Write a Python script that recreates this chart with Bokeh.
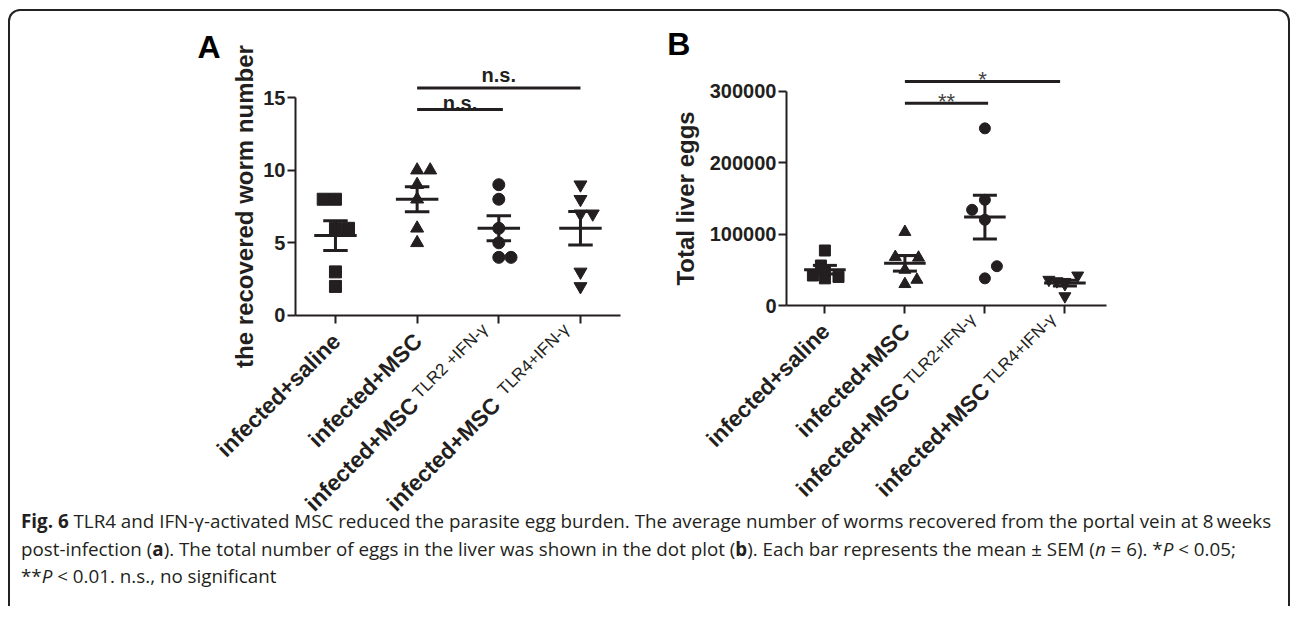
import numpy as np
from math import pi
from bokeh.plotting import figure
from bokeh.models import FixedTicker, Label, Div, Range1d, PrintfTickFormatter
from bokeh.layouts import row, column
from bokeh.embed import file_html
from bokeh.resources import INLINE

# ---------------- data ----------------
group_names = ["infected+saline", "infected+MSC", "infected+MSC", "infected+MSC"]
group_sup_a = ["", "", "TLR2 +IFN-\u03b3", "TLR4+IFN-\u03b3"]
group_sup_b = ["", "", "TLR2+IFN-\u03b3", "TLR4+IFN-\u03b3"]
markers = ["square", "triangle", "circle", "inverted_triangle"]

worm_saline = [8, 8, 6, 6, 3, 2]
worm_msc = [10, 10, 9, 8, 6, 5]
worm_tlr2 = [9, 8, 6, 5, 4, 4]
worm_tlr4 = [9, 8, 7, 7, 3, 2]

eggs_saline = [77000, 56000, 48000, 42000, 40000, 38000]
eggs_msc = [103000, 68000, 67000, 50000, 36000, 30000]
eggs_tlr2 = [248000, 148000, 134000, 120000, 55000, 38000]
eggs_tlr4 = [42000, 36000, 34000, 33000, 30000, 13000]

worm_jitter = [[-0.15, 0, 0, 0.16, 0, 0], [0, 0.16, 0, 0, 0, 0],
               [0, 0, 0, 0, 0, 0.15], [0, 0, 0, 0.15, 0, 0]]
eggs_jitter = [[0, -0.05, 0, -0.15, 0.17, 0], [0, -0.12, 0.17, 0, 0.15, 0],
               [0, 0, -0.16, 0, 0.15, 0], [0.16, -0.2, -0.1, 0, 0, 0]]

worm_ticks = [0, 5, 10, 15]
eggs_ticks = [0, 100000, 200000, 300000]

# comparisons: (from group, to group, bar height, text, text centre height)
worm_comparisons = [(1, 2.05, 14.18, "n.s.", 14.62), (1, 3.0, 15.66, "n.s.", 16.52)]
eggs_comparisons = [(1, 2.04, 283000, "**", 285600), (1, 2.94, 313600, "*", 317100)]

# ---------------- style ----------------
INK = "#231f20"
FONT = "Liberation Sans"
XLAB_SIZE = "22.5px"


def make_panel(groups, jitters, sups, ticks, xr, yr, xbounds, title, width, height,
               msize, sup_pos, sup_shift, fmt=None, title_standoff=4):
    p = figure(width=width, height=height, x_range=Range1d(*xr), y_range=Range1d(*yr),
               output_backend="svg", toolbar_location=None,
               min_border=0, min_border_left=0, min_border_right=0,
               min_border_top=0, min_border_bottom=0)
    p.xgrid.visible = False
    p.ygrid.visible = False
    p.outline_line_color = None
    p.background_fill_alpha = 0
    p.border_fill_alpha = 0

    for i, (vals, jit) in enumerate(zip(groups, jitters)):
        xs = [i + j for j in jit]
        sz = msize + (1 if "triangle" in markers[i] else 0)
        p.scatter(xs, vals, marker=markers[i], size=sz, color=INK)
        arr = np.array(vals, dtype=float)
        m = arr.mean()
        s = arr.std(ddof=1) / np.sqrt(len(arr))
        p.segment(x0=[i - 0.26], y0=[m], x1=[i + 0.26], y1=[m], line_width=3, line_color=INK)
        p.segment(x0=[i], y0=[m - s], x1=[i], y1=[m + s], line_width=3, line_color=INK)
        p.segment(x0=[i - 0.15, i - 0.15], y0=[m + s, m - s], x1=[i + 0.15, i + 0.15],
                  y1=[m + s, m - s], line_width=3, line_color=INK)

    for ax in (p.xaxis[0], p.yaxis[0]):
        ax.axis_line_width = 2
        ax.axis_line_color = INK
        ax.major_tick_line_width = 2
        ax.major_tick_line_color = INK
        ax.major_tick_in = 0
        ax.major_tick_out = 8
        ax.minor_tick_line_color = None

    p.yaxis.fixed_location = xbounds[0]
    p.yaxis.ticker = FixedTicker(ticks=ticks)
    p.yaxis.bounds = (ticks[0], ticks[-1])
    p.yaxis.major_label_text_font = FONT
    p.yaxis.major_label_text_font_style = "bold"
    p.yaxis.major_label_text_font_size = "20px"
    p.yaxis.major_label_text_color = INK
    p.yaxis.major_label_standoff = 2
    if fmt is not None:
        p.yaxis.formatter = fmt
    p.yaxis.axis_label = title
    p.yaxis.axis_label_text_font = FONT
    p.yaxis.axis_label_text_font_style = "bold"
    p.yaxis.axis_label_text_font_size = "24px"
    p.yaxis.axis_label_text_color = INK
    p.yaxis.axis_label_standoff = title_standoff

    p.xaxis.fixed_location = 0
    p.xaxis.bounds = xbounds
    p.xaxis.ticker = FixedTicker(ticks=[0, 1, 2, 3])
    p.xaxis.major_label_overrides = {0: "", 1: "", 2: "", 3: ""}

    for i, (name, sup) in enumerate(zip(group_names, sups)):
        if sup:
            sx, sy = sup_pos
            p.add_layout(Label(x=i, y=0, x_offset=sx, y_offset=sy, text=sup, angle=pi / 4,
                               text_align="right", text_baseline="middle", text_font=FONT,
                               text_font_size="17px", text_color=INK))
            dx, dy = sup_shift
            p.add_layout(Label(x=i, y=0, x_offset=sx + dx, y_offset=sy + dy, text=name,
                               angle=pi / 4, text_align="right", text_baseline="middle",
                               text_font=FONT, text_font_style="bold",
                               text_font_size=XLAB_SIZE, text_color=INK))
        else:
            p.add_layout(Label(x=i, y=0, x_offset=1, y_offset=-22, text=name, angle=pi / 4,
                               text_align="right", text_baseline="middle", text_font=FONT,
                               text_font_style="bold", text_font_size=XLAB_SIZE, text_color=INK))
    return p


# panel A: canvas 630x520, 81.67 px per group, 14.53 px per worm
pa = make_panel([worm_saline, worm_msc, worm_tlr2, worm_tlr4], worm_jitter, group_sup_a,
                worm_ticks, (-3.979, 3.735), (-14.866, 20.92), (-0.49, 3.49),
                "the recovered worm number", 630, 520, 12, (-14, -11), (-70, -75),
                title_standoff=2)
for x0, x1, h, t, th in worm_comparisons:
    pa.segment(x0=[x0], y0=[h], x1=[x1], y1=[h], line_width=3, line_color=INK)
    pa.add_layout(Label(x=(x0 + x1) / 2, y=th, text=t,
                        text_align="center", text_baseline="middle", text_font=FONT,
                        text_font_style="bold", text_font_size="20px", text_color=INK))
pa.add_layout(Label(x=-1.69, y=18.51, text="A", text_align="left", text_baseline="middle",
                    text_font=FONT, text_font_style="bold", text_font_size="32px", text_color="black"))

# panel B: canvas 648x520, 80 px per group, 1400 eggs per px
pb = make_panel([eggs_saline, eggs_msc, eggs_tlr2, eggs_tlr4], eggs_jitter, group_sup_b,
                eggs_ticks, (-2.305, 5.795), (-316400, 411600), (-0.48, 3.52),
                "Total liver eggs", 648, 520, 11, (-12, -11), (-67, -70.5),
                fmt=PrintfTickFormatter(format="%d"), title_standoff=8)
for x0, x1, h, t, th in eggs_comparisons:
    pb.segment(x0=[x0], y0=[h], x1=[x1], y1=[h], line_width=3, line_color=INK)
    pb.add_layout(Label(x=(x0 + x1) / 2, y=th, text=t,
                        text_align="center", text_baseline="middle", text_font=FONT,
                        text_font_size="22px", text_color="#444444"))
pb.add_layout(Label(x=-1.97, y=366100, text="B", text_align="left", text_baseline="middle",
                    text_font=FONT, text_font_style="bold", text_font_size="32px", text_color="black"))

caption_html = (
    '<div style="font-family: \'Open Sans\'; font-size: 18.8px; line-height: 27.5px; '
    'color: #231f20; padding-left: 11px; padding-top: 7px; white-space: nowrap;">'
    '<b>Fig. 6</b> TLR4 and IFN-\u03b3-activated MSC reduced the parasite egg burden. '
    'The average number of worms recovered from the portal vein at 8\u2009weeks<br>'
    'post-infection (<b>a</b>). The total number of eggs in the liver was shown in the dot plot '
    '(<b>b</b>). Each bar represents the mean \u00b1 SEM (<i>n</i> = 6). *<i>P</i> &lt; 0.05;<br>'
    '**<i>P</i> &lt; 0.01. n.s., no significant</div>'
)
cap = Div(text=caption_html, width=1278, height=105, margin=(-30, 0, 0, 0))

layout = column(row(pa, pb), cap, margin=(9, 0, 0, 8),
                styles={"border": "2px solid #222", "border-bottom": "none",
                        "border-radius": "12px 12px 0 0"})

open("out.html", "w").write(file_html(layout, INLINE))
